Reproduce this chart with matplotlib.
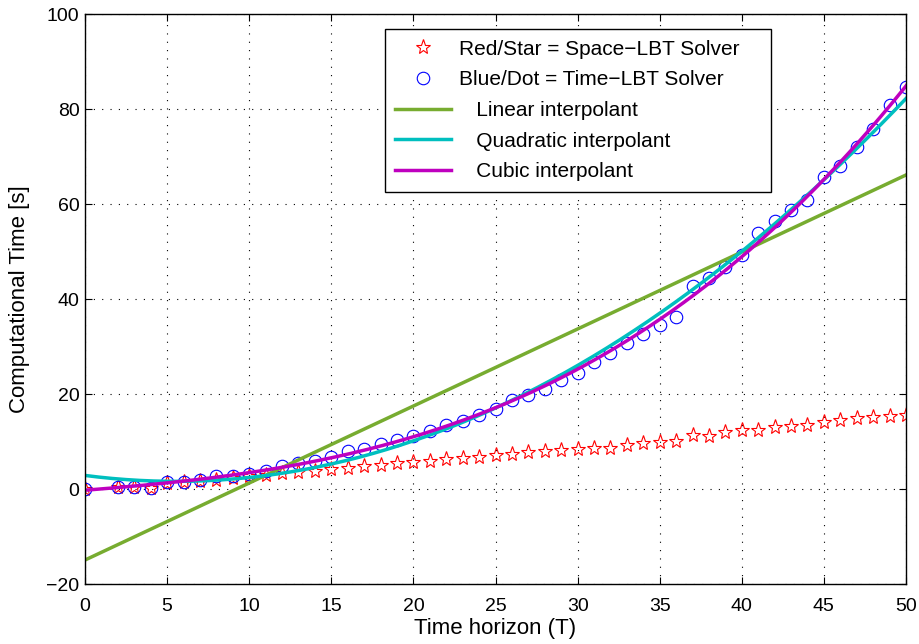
import numpy as np
import matplotlib
matplotlib.use("Agg")
import matplotlib.pyplot as plt

plt.rcParams['font.family'] = ['Liberation Sans', 'DejaVu Sans']

# Time horizon values (T = 1 is missing in the run)
horizon = [0] + list(range(2, 51))

# Space-LBT solver timings (red stars)
space_lbt = [0.0, 0.4, 0.4, 0.3, 1.3, 1.5, 1.7, 2.0, 2.3, 2.7,
             3.0, 3.4, 3.6, 3.8, 4.3, 4.5, 5.0, 5.2, 5.6, 5.7,
             6.0, 6.3, 6.5, 6.8, 7.3, 7.5, 7.8, 8.0, 8.3, 8.5,
             8.7, 8.7, 9.4, 9.8, 9.9, 10.2, 11.5, 11.3, 12.0, 12.4,
             12.5, 13.2, 13.3, 13.6, 14.2, 14.5, 15.0, 15.2, 15.4, 15.7]

# Time-LBT solver timings (blue circles)
time_lbt = [0.0, 0.5, 0.4, 0.3, 1.5, 1.6, 2.0, 2.7, 2.9, 3.3,
            3.9, 5.0, 5.6, 6.0, 6.8, 8.0, 8.5, 9.6, 10.4, 11.3,
            12.3, 13.6, 14.3, 15.6, 17.0, 18.7, 19.9, 21.2, 23.1, 24.4,
            26.8, 28.6, 30.7, 32.7, 34.6, 36.3, 42.7, 44.4, 46.9, 49.4,
            53.9, 56.5, 58.9, 61.0, 65.8, 68.0, 72.0, 75.8, 80.9, 84.7]

x = np.array(horizon, dtype=float)
y = np.array(time_lbt)

fig = plt.figure(figsize=(9.2, 6.44), dpi=100)
ax = fig.add_axes([0.0924, 0.0927, 0.8924, 0.8851])

ax.plot(horizon, space_lbt, linestyle='none', marker='*', ms=11, mfc='none',
        mec='red', mew=0.8, label='Red/Star = Space\u2212LBT Solver')
ax.plot(horizon, time_lbt, linestyle='none', marker='o', ms=9, mfc='none',
        mec='blue', mew=0.8, label='Blue/Dot = Time\u2212LBT Solver')

# polynomial interpolants through the Time-LBT data
xs = np.linspace(0, 50, 300)
fits = [(1, '#77AC30', '   Linear interpolant'),
        (2, '#00BFBF', '   Quadratic interpolant'),
        (3, '#BF00BF', '   Cubic interpolant')]
for deg, col, lab in fits:
    p = np.polyfit(x, y, deg)
    ax.plot(xs, np.polyval(p, xs), color=col, lw=2.5, label=lab)

ax.set_xlim(0, 50)
ax.set_ylim(-20, 100)
ax.set_xticks(range(0, 51, 5))
ax.set_yticks(range(-20, 101, 20))
ax.tick_params(direction='in', labelsize=14, length=5, top=True, right=True,
               labeltop=False, labelright=False)
ax.tick_params(axis='x', pad=10)
ax.tick_params(axis='y', pad=4)
ax.grid(True, linestyle=(0, (1, 6.5)), color='black', lw=0.8)
for s in ax.spines.values():
    s.set_linewidth(1.0)

ax.set_xlabel('Time horizon (T)', fontsize=16, va='center')
ax.set_ylabel('Computational Time [s]', fontsize=16, va='center')
ax.xaxis.set_label_coords(0.5, -0.0767)
ax.yaxis.set_label_coords(-0.0800, 0.5)

leg = ax.legend(loc='upper left', bbox_to_anchor=(0.365, 0.9737, 0.470, 0.0),
                mode='expand', borderaxespad=0, fontsize=15,
                fancybox=False, edgecolor='black', framealpha=1,
                handlelength=2.7, handletextpad=0.35, labelspacing=0.56,
                borderpad=0.5)
leg.get_frame().set_linewidth(1.0)

fig.savefig('out.png', dpi=100)
